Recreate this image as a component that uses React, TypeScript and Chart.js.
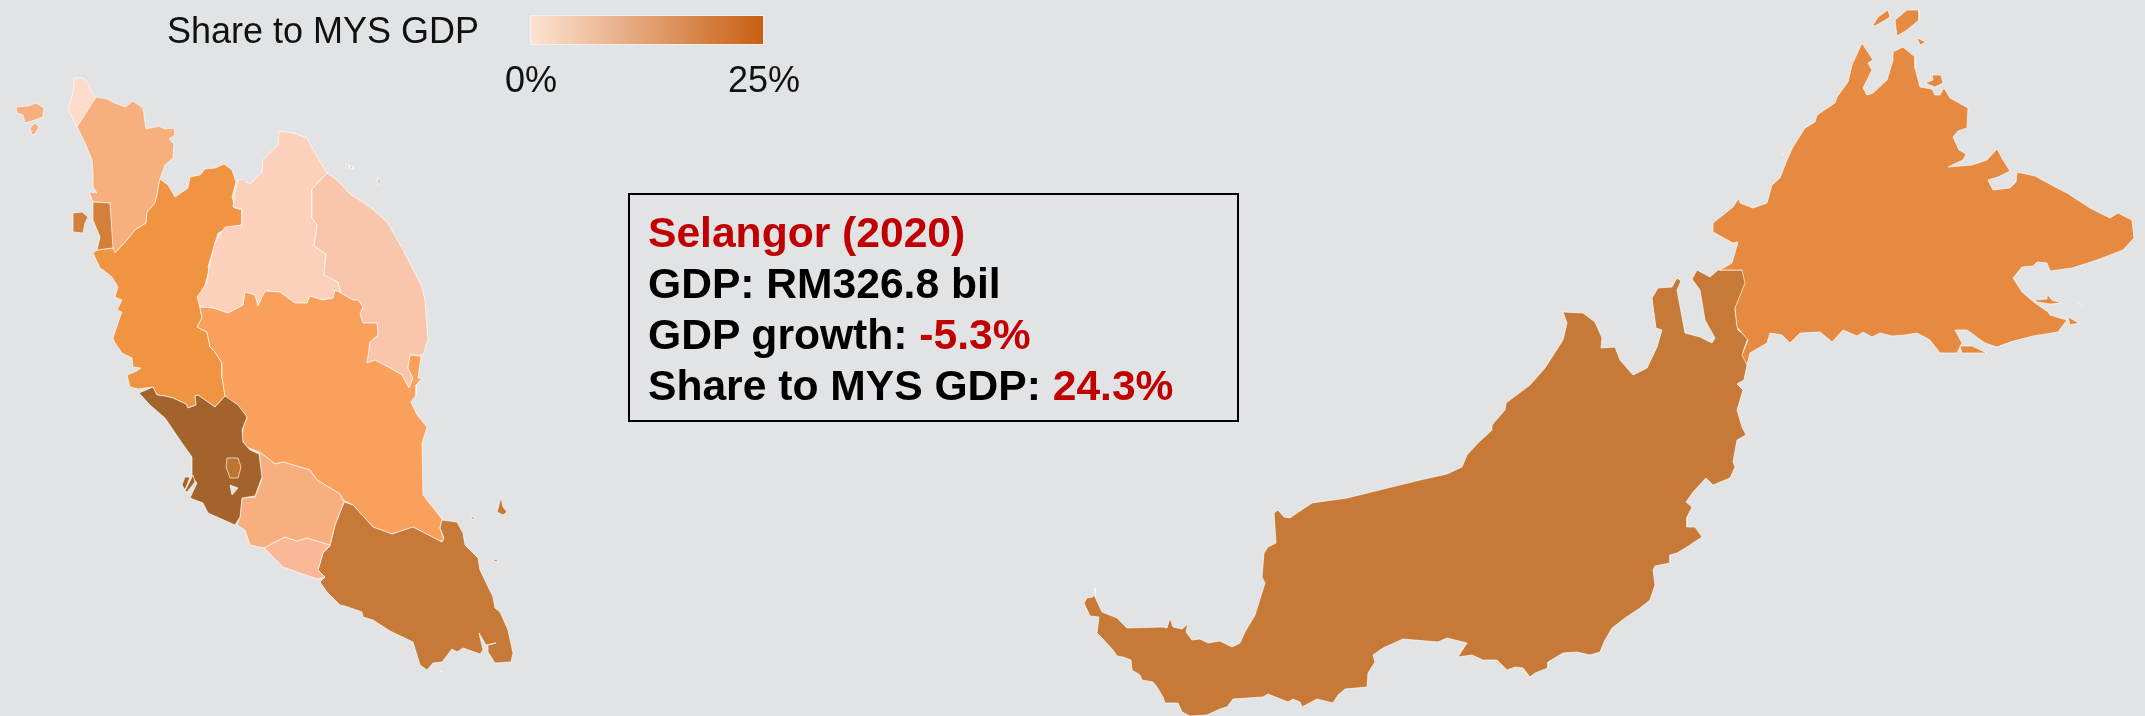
import React, { useEffect, useRef } from "react";
import { Chart, registerables } from "chart.js";

Chart.register(...registerables);

// Map grid: kilometres east / south of the sheet origin, roughly 1 km per unit.
type P = [number, number];

const perlis: P[] = [[74,78],[83,78],[89,84],[90,90],[96,97],[77,127],[68,109],[73,93]];
const kedah: P[] = [[96,97],[107,99],[115,103],[125,107],[133,101],[143,108],[146,129],[159,126],[165,129],[174,128],[175,135],[169,139],[174,144],[173,158],[165,165],[160,179],[159,183],[157,195],[155,203],[147,212],[146,223],[135,230],[127,240],[115,253],[112,251],[110,203],[93,202],[89,192],[97,193],[93,187],[93,173],[92,160],[85,143],[77,127]];
const penangMainland: P[] = [[93,202],[110,203],[113,248],[97,250],[100,237],[93,220]];
const penangIsland: P[] = [[73,213],[82,212],[88,217],[85,223],[83,233],[73,232]];
const langkawi: P[] = [[16,107],[28,106],[36,103],[44,108],[43,117],[35,120],[25,123],[23,115],[17,113]];
const langkawi2: P[] = [[30,128],[35,123],[39,127],[35,134],[32,135]];
const perak: P[] = [[160,179],[168,185],[175,197],[188,188],[190,177],[200,175],[205,169],[215,168],[224,164],[232,170],[236,182],[232,197],[235,208],[242,210],[242,225],[230,227],[218,233],[213,250],[208,267],[209,270],[205,285],[198,298],[200,308],[202,318],[197,327],[207,332],[210,347],[215,352],[222,363],[222,377],[225,396],[215,407],[198,395],[195,396],[196,405],[188,408],[186,404],[173,398],[165,396],[157,395],[153,387],[138,389],[130,387],[127,375],[135,372],[141,368],[133,367],[132,358],[122,353],[115,343],[113,338],[120,317],[122,312],[117,310],[122,300],[115,297],[118,287],[112,277],[103,270],[100,268],[93,253],[97,250],[113,248],[115,253],[127,240],[135,230],[146,223],[147,212],[155,203],[157,195],[159,183]];
const kelantan: P[] = [[279,131],[293,133],[307,138],[312,148],[327,173],[312,189],[312,218],[317,225],[314,246],[326,254],[324,275],[338,282],[341,293],[335,290],[333,298],[323,300],[310,296],[307,303],[295,303],[280,292],[265,291],[258,306],[255,295],[245,292],[243,305],[228,313],[213,308],[200,307],[197,297],[207,283],[209,267],[215,243],[225,227],[242,225],[242,209],[233,207],[235,192],[238,180],[243,179],[250,184],[262,172],[263,160],[278,145]];
const terengganu: P[] = [[327,173],[337,180],[350,194],[370,207],[387,222],[402,248],[422,287],[425,300],[428,340],[423,355],[410,355],[408,368],[413,378],[409,388],[402,375],[390,368],[375,360],[367,363],[370,342],[378,335],[377,323],[363,323],[360,314],[363,307],[358,300],[353,300],[341,293],[338,282],[324,275],[326,254],[314,246],[317,225],[312,218],[312,189]];
const pahang: P[] = [[200,307],[213,308],[228,313],[243,305],[245,292],[255,295],[258,306],[265,291],[280,292],[295,303],[307,303],[310,296],[323,300],[333,298],[335,290],[341,293],[353,300],[358,300],[363,307],[360,314],[363,323],[377,323],[378,335],[370,342],[367,363],[375,360],[390,368],[402,375],[409,388],[413,378],[408,368],[410,355],[421,356],[418,378],[422,378],[416,385],[416,395],[411,402],[417,415],[427,427],[422,443],[423,495],[442,519],[440,528],[444,540],[440,541],[413,527],[392,534],[373,527],[353,505],[343,500],[340,494],[317,480],[310,470],[283,462],[275,464],[265,456],[259,452],[247,447],[242,440],[243,428],[247,417],[238,406],[226,398],[225,396],[222,377],[222,363],[215,352],[210,347],[207,332],[197,327],[202,318]];
const johor: P[] = [[344,502],[353,505],[373,527],[392,534],[413,527],[442,542],[444,538],[440,528],[442,520],[457,522],[463,533],[465,545],[478,558],[480,570],[493,597],[495,608],[500,612],[508,630],[513,653],[511,662],[495,663],[488,652],[488,645],[496,643],[486,645],[479,633],[483,650],[480,654],[463,648],[457,652],[452,649],[442,662],[433,663],[427,670],[420,665],[413,642],[390,631],[373,620],[363,617],[362,612],[345,606],[340,605],[327,592],[320,582],[325,577],[318,570],[323,553],[330,546],[335,525]];
const melaka: P[] = [[264,548],[275,542],[285,537],[297,541],[307,538],[330,545],[323,553],[318,570],[325,577],[317,579],[283,567],[273,557]];
const negeriSembilan: P[] = [[242,498],[255,497],[262,479],[259,452],[265,456],[275,464],[283,462],[310,470],[317,480],[340,494],[344,502],[335,525],[330,545],[307,538],[297,541],[285,537],[275,542],[264,548],[250,545],[245,530],[237,525],[240,517]];
const selangor: P[] = [[139,393],[153,387],[157,395],[165,396],[173,398],[186,404],[188,408],[196,405],[195,396],[198,395],[215,407],[225,396],[238,405],[247,417],[242,430],[243,442],[250,450],[259,454],[262,477],[255,496],[242,498],[240,517],[235,525],[208,513],[203,503],[190,498],[197,483],[192,477],[192,457],[182,443],[165,418],[150,405]];
const klang1: P[] = [[182,485],[185,477],[190,477],[185,490]];
const klang2: P[] = [[185,491],[193,475],[195,482],[187,492]];
const kualaLumpur: P[] = [[227,458],[238,458],[241,467],[238,478],[230,478],[226,467]];
const putrajaya: P[] = [[230,485],[238,488],[232,495]];
const tioman: P[] = [[501,497],[503,507],[507,512],[503,515],[497,512],[499,505]];
const johorIslet1: P[] = [[472,516],[475,519],[472,519]];
const johorIslet2: P[] = [[493,559],[497,560],[498,562],[494,561]];
const johorIslet3: P[] = [[441,672],[442,666],[443,668]];
const redang: P[] = [[377,178],[382,181],[378,185]];
const perhentian1: P[] = [[346,165],[349,165],[349,168],[346,168]];
const perhentian2: P[] = [[350,166],[353,166],[353,169],[350,169]];
const sarawak: P[] = [[1095,588],[1095,597],[1102,612],[1117,618],[1127,628],[1163,627],[1167,628],[1170,618],[1173,627],[1182,629],[1188,624],[1186,632],[1192,640],[1200,639],[1208,643],[1220,641],[1232,647],[1240,643],[1245,632],[1255,615],[1265,583],[1262,577],[1264,553],[1268,547],[1276,543],[1274,513],[1278,510],[1284,517],[1290,518],[1297,513],[1312,503],[1347,498],[1420,480],[1447,474],[1462,467],[1467,455],[1478,443],[1492,430],[1492,425],[1505,410],[1506,403],[1530,385],[1545,368],[1563,340],[1567,323],[1563,312],[1583,313],[1595,322],[1602,338],[1601,348],[1615,347],[1620,360],[1633,375],[1647,368],[1657,347],[1662,330],[1656,328],[1652,298],[1658,288],[1672,287],[1677,278],[1681,281],[1677,290],[1685,333],[1700,337],[1712,343],[1715,338],[1705,320],[1700,290],[1692,279],[1697,270],[1710,277],[1718,270],[1743,270],[1746,283],[1735,310],[1738,330],[1748,338],[1743,352],[1747,365],[1744,380],[1737,384],[1743,390],[1737,410],[1742,427],[1746,435],[1737,440],[1733,462],[1735,467],[1730,478],[1713,485],[1706,478],[1693,492],[1686,502],[1692,507],[1687,517],[1687,527],[1695,527],[1702,537],[1687,547],[1677,553],[1670,555],[1670,563],[1655,566],[1653,570],[1655,585],[1650,600],[1640,608],[1625,618],[1612,628],[1604,642],[1600,652],[1590,655],[1577,652],[1563,653],[1548,662],[1548,668],[1535,673],[1530,677],[1523,668],[1515,667],[1507,670],[1497,660],[1483,660],[1472,655],[1458,657],[1467,643],[1447,638],[1438,642],[1403,639],[1383,648],[1373,655],[1375,662],[1368,673],[1367,687],[1345,689],[1338,695],[1333,703],[1317,699],[1302,707],[1300,702],[1293,699],[1288,702],[1268,694],[1263,697],[1233,699],[1227,707],[1220,709],[1207,715],[1190,716],[1182,712],[1178,703],[1165,703],[1163,697],[1157,687],[1153,682],[1142,680],[1140,675],[1132,670],[1131,660],[1123,657],[1117,656],[1113,650],[1102,638],[1097,633],[1099,617],[1090,616],[1084,603],[1087,598],[1093,597]];
const sabah: P[] = [[1713,232],[1713,223],[1733,207],[1739,198],[1740,203],[1753,208],[1767,203],[1772,185],[1780,178],[1787,160],[1793,147],[1805,128],[1815,122],[1817,115],[1835,103],[1837,97],[1848,82],[1852,65],[1862,43],[1873,60],[1868,63],[1872,70],[1863,88],[1867,95],[1873,93],[1887,80],[1893,60],[1893,52],[1903,47],[1915,57],[1915,68],[1920,87],[1932,89],[1935,95],[1940,95],[1944,88],[1950,98],[1968,108],[1967,128],[1958,131],[1953,137],[1959,150],[1966,154],[1963,160],[1948,167],[1972,165],[1987,160],[1997,149],[2003,160],[2010,171],[1998,177],[1988,180],[1993,190],[2010,188],[2016,182],[2017,172],[2035,176],[2057,188],[2067,193],[2090,208],[2110,218],[2118,213],[2132,220],[2134,238],[2123,250],[2097,260],[2072,268],[2050,271],[2047,263],[2037,262],[2033,266],[2022,267],[2013,278],[2022,292],[2035,303],[2048,312],[2050,315],[2067,320],[2058,332],[2033,336],[2010,342],[1997,347],[1985,343],[1967,330],[1955,330],[1962,343],[1957,353],[1940,353],[1930,340],[1917,333],[1905,335],[1892,336],[1880,333],[1872,337],[1863,332],[1857,336],[1843,330],[1832,342],[1820,332],[1800,333],[1790,343],[1782,335],[1770,333],[1767,343],[1750,353],[1747,365],[1742,355],[1748,340],[1737,327],[1735,308],[1745,283],[1742,270],[1720,270],[1732,263],[1738,242],[1733,243]];
const banggi: P[] = [[1895,20],[1907,10],[1919,10],[1919,20],[1907,30],[1897,36]];
const balambangan: P[] = [[1873,25],[1878,17],[1888,10],[1890,17],[1882,22],[1875,26]];
const malawali: P[] = [[1917,38],[1926,42],[1920,45]];
const jambongan: P[] = [[1925,83],[1933,80],[1932,75],[1941,75],[1943,83],[1935,87]];
const tiga: P[] = [[1782,154],[1787,156],[1786,157]];
const bumBum: P[] = [[2035,300],[2047,299],[2047,294],[2052,300],[2062,303],[2050,304],[2037,302]];
const sebatik: P[] = [[1960,346],[1972,346],[1987,353],[1962,353]];
const mabul: P[] = [[2068,317],[2079,323],[2070,325]];
const islet: P[] = [[2078,303],[2083,306],[2079,305]];

// Paint order: first entry on the bottom, later entries on top.
const stateColors: [P[], string][] = [
  [perlis, "#FDDCCB"], [kedah, "#F8AF7E"], [langkawi, "#F8AF7E"], [langkawi2, "#F8AF7E"],
  [perak, "#F09442"], [kelantan, "#FCD0BA"], [terengganu, "#FAC6AB"], [pahang, "#F9A05C"],
  [johor, "#C77A38"], [tioman, "#C77A38"], [johorIslet1, "#C77A38"], [johorIslet2, "#C77A38"], [johorIslet3, "#C77A38"],
  [melaka, "#FBB896"], [negeriSembilan, "#F8AF80"], [selangor, "#A3632A"], [klang1, "#A3632A"], [klang2, "#A3632A"],
  [kualaLumpur, "#BE7532"], [putrajaya, "#E2E3E5"], [penangMainland, "#D5803A"], [penangIsland, "#D5803A"],
  [redang, "#FAC6AB"], [perhentian1, "#FAC6AB"], [perhentian2, "#FAC6AB"],
  [sarawak, "#C77A38"], [sabah, "#E58A40"], [banggi, "#E58A40"], [balambangan, "#E58A40"], [malawali, "#E58A40"],
  [jambongan, "#E58A40"], [tiga, "#E58A40"], [bumBum, "#E58A40"], [sebatik, "#E58A40"], [mabul, "#E58A40"], [islet, "#E58A40"],
];

const legendTitle = "Share to MYS GDP";
const legendTicks = ["0%", "25%"];
const infoTitle = "Selangor (2020)";
const infoGdp = "GDP: RM326.8 bil";
const infoGrowthLabel = "GDP growth: ";
const infoGrowth = "-5.3%";
const infoShareLabel = "Share to MYS GDP: ";
const infoShare = "24.3%";

const BG = "#E2E3E5";
const RED = "#C00000";
const FONT = '"Liberation Sans", Arial, sans-serif';

export default function App() {
  const ref = useRef<HTMLCanvasElement>(null);
  useEffect(() => {
    document.body.style.margin = "0";
    document.body.style.background = BG;
    const chart = new Chart(ref.current!, {
      type: "scatter",
      data: {
        datasets: [...stateColors].reverse().map(([pts, color]) => ({
          data: [...pts, pts[0]].map(([x, y]) => ({ x, y })),
          showLine: true,
          fill: "shape" as any,
          backgroundColor: color,
          borderColor: "rgba(255,255,255,0.65)",
          borderWidth: 1,
          pointRadius: 0,
          tension: 0,
        })),
      },
      options: {
        responsive: false,
        animation: false,
        layout: { padding: 0 },
        plugins: { legend: { display: false }, tooltip: { enabled: false } },
        scales: {
          x: { type: "linear", min: 0, max: 2145, display: false },
          y: { type: "linear", min: 0, max: 716, reverse: true, display: false },
        },
      },
    });
    return () => chart.destroy();
  }, []);

  const abs = (o: React.CSSProperties): React.CSSProperties => ({ position: "absolute", whiteSpace: "nowrap", ...o });
  const line = (top: number): React.CSSProperties =>
    abs({ left: 648, top, fontFamily: FONT, fontWeight: 700, fontSize: 42.6, lineHeight: "44px", color: "#000" });

  return (
    <div style={{ position: "relative", width: 2145, height: 716, background: BG, overflow: "hidden" }}>
      <canvas ref={ref} width={2145} height={716} style={{ position: "absolute", left: 0, top: 0 }} />
      <div style={abs({ left: 167, top: 11, fontFamily: FONT, fontSize: 36, lineHeight: "40px", color: "#111" })}>{legendTitle}</div>
      <div style={abs({ left: 531, top: 16, width: 232, height: 28, background: "linear-gradient(90deg,#FDE3D4,#C85F12)", boxShadow: "0 0 0 1px rgba(255,255,255,0.5)" })} />
      <div style={abs({ left: 431, width: 200, textAlign: "center", top: 60, fontFamily: FONT, fontSize: 36, lineHeight: "40px", color: "#111" })}>{legendTicks[0]}</div>
      <div style={abs({ left: 664, width: 200, textAlign: "center", top: 60, fontFamily: FONT, fontSize: 36, lineHeight: "40px", color: "#111" })}>{legendTicks[1]}</div>
      <div style={abs({ left: 628, top: 193, width: 607, height: 225, border: "2px solid #000" })} />
      <div style={{ ...line(210), color: RED }}>{infoTitle}</div>
      <div style={line(261)}>{infoGdp}</div>
      <div style={line(312)}>{infoGrowthLabel}<span style={{ color: RED }}>{infoGrowth}</span></div>
      <div style={line(363)}>{infoShareLabel}<span style={{ color: RED }}>{infoShare}</span></div>
    </div>
  );
}
